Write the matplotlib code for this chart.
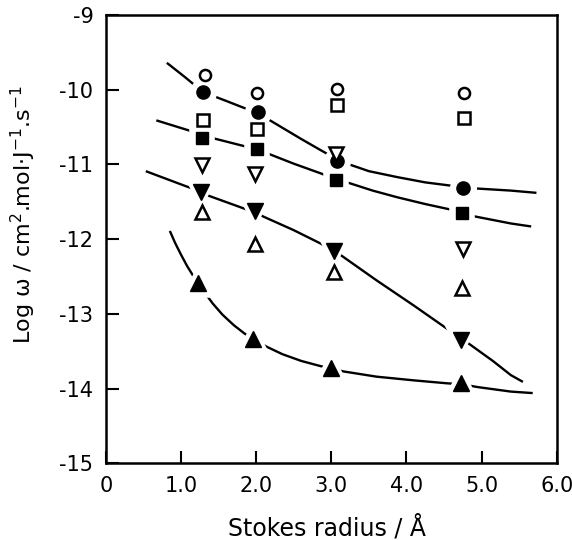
import numpy as np
import matplotlib
matplotlib.use("Agg")
import matplotlib.pyplot as plt

plt.rcParams['axes.unicode_minus'] = False
plt.rcParams['font.family'] = ['DejaVu Sans']

# measured points (Stokes radius, log w)
open_circ_x = [1.32, 2.01, 3.08, 4.76]
open_circ_y = [-9.80, -10.04, -9.99, -10.04]
open_sq_x = [1.29, 2.01, 3.07, 4.77]
open_sq_y = [-10.40, -10.53, -10.20, -10.38]
open_dn_x = [1.28, 1.98, 3.06, 4.75]
open_dn_y = [-11.01, -11.13, -10.86, -12.13]
open_up_x = [1.28, 1.98, 3.04, 4.74]
open_up_y = [-11.63, -12.07, -12.44, -12.65]

fill_circ_x = [1.29, 2.03, 3.07, 4.75]
fill_circ_y = [-10.03, -10.30, -10.96, -11.32]
fill_sq_x = [1.28, 2.01, 3.06, 4.74]
fill_sq_y = [-10.64, -10.79, -11.21, -11.65]
fill_dn_x = [1.26, 1.98, 3.03, 4.73]
fill_dn_y = [-11.37, -11.62, -12.16, -13.35]
fill_up_x = [1.23, 1.96, 3.00, 4.72]
fill_up_y = [-12.59, -13.34, -13.73, -13.92]

# hand-drawn trend curves
curve_circ_x = [0.81, 1.05, 1.29, 1.60, 1.88, 2.03, 2.20, 2.40, 2.60, 2.86, 3.07, 3.21, 3.50, 3.88, 4.25, 4.64, 4.90, 5.39, 5.73]
curve_circ_y = [-9.64, -9.83, -10.03, -10.15, -10.26, -10.32, -10.42, -10.54, -10.66, -10.81, -10.93, -10.99, -11.09, -11.17, -11.24, -11.29, -11.32, -11.35, -11.38]
curve_sq_x = [0.67, 1.12, 1.28, 1.43, 1.86, 2.01, 2.17, 2.50, 2.86, 3.06, 3.21, 3.55, 3.88, 4.25, 4.57, 4.74, 4.88, 5.39, 5.66]
curve_sq_y = [-10.41, -10.55, -10.62, -10.65, -10.76, -10.79, -10.86, -10.99, -11.12, -11.20, -11.24, -11.35, -11.44, -11.53, -11.60, -11.64, -11.69, -11.79, -11.83]
curve_dn_x = [0.53, 1.06, 1.26, 1.37, 1.81, 1.98, 2.10, 2.50, 2.86, 3.03, 3.12, 3.60, 4.10, 4.57, 4.73, 4.86, 5.15, 5.39, 5.55]
curve_dn_y = [-11.09, -11.29, -11.36, -11.42, -11.58, -11.64, -11.70, -11.88, -12.06, -12.16, -12.21, -12.55, -12.89, -13.22, -13.33, -13.42, -13.63, -13.82, -13.91]
curve_up_x = [0.85, 0.92, 1.00, 1.08, 1.16, 1.23, 1.31, 1.42, 1.55, 1.70, 1.84, 1.96, 2.14, 2.35, 2.60, 2.86, 3.00, 3.16, 3.60, 4.10, 4.55, 4.72, 4.95, 5.39, 5.68]
curve_up_y = [-11.89, -12.05, -12.21, -12.36, -12.49, -12.59, -12.71, -12.86, -13.01, -13.15, -13.26, -13.34, -13.44, -13.54, -13.63, -13.70, -13.73, -13.77, -13.84, -13.89, -13.93, -13.94, -13.98, -14.04, -14.06]

xticks = [0, 1, 2, 3, 4, 5, 6]
xticklabels = ['0', '1.0', '2.0', '3.0', '4.0', '5.0', '6.0']
yticks = [-9, -10, -11, -12, -13, -14, -15]

fig = plt.figure(figsize=(5.72, 5.40), dpi=100)
ax = fig.add_axes([0.1853, 0.142, 0.7880, 0.8302])

for cx, cy in [(curve_circ_x, curve_circ_y), (curve_sq_x, curve_sq_y),
               (curve_dn_x, curve_dn_y), (curve_up_x, curve_up_y)]:
    ax.plot(cx, cy, color='black', lw=1.7, zorder=2, solid_capstyle='butt')

# white halos give the gaps in the curves around filled symbols
filled = [(fill_circ_x, fill_circ_y, 'o', 9.5), (fill_sq_x, fill_sq_y, 's', 9),
          (fill_dn_x, fill_dn_y, 'v', 11), (fill_up_x, fill_up_y, '^', 11)]
for fx, fy, m, s in filled:
    ax.plot(fx, fy, ls='none', marker=m, ms=s + 6, mfc='white', mec='white', mew=4, zorder=3)
for fx, fy, m, s in filled:
    ax.plot(fx, fy, ls='none', marker=m, ms=s, mfc='black', mec='black', zorder=4)

opened = [(open_circ_x, open_circ_y, 'o', 8), (open_sq_x, open_sq_y, 's', 8),
          (open_dn_x, open_dn_y, 'v', 9.5), (open_up_x, open_up_y, '^', 9.5)]
for ox, oy, m, s in opened:
    ax.plot(ox, oy, ls='none', marker=m, ms=s, mfc='white', mec='black', mew=1.8, zorder=5)

ax.set_xlim(0, 6)
ax.set_ylim(-15, -9)
ax.set_xticks(xticks)
ax.set_xticklabels(xticklabels)
ax.set_yticks(yticks)
ax.set_yticklabels([str(v) for v in yticks])
ax.tick_params(direction='in', length=9, width=1.5, labelsize=15, top=False, right=False)
ax.tick_params(axis='x', pad=9)
ax.tick_params(axis='y', pad=9)
for sp in ax.spines.values():
    sp.set_linewidth(1.8)

ax.set_xlabel('Stokes radius / Å', fontsize=17)
ax.xaxis.set_label_coords(0.49, -0.115)
ax.set_ylabel('Log ω / cm$^2$.mol·J$^{-1}$.s$^{-1}$', fontsize=16)
ax.yaxis.set_label_coords(-0.15, 0.555)

fig.savefig('out.png', dpi=100)
